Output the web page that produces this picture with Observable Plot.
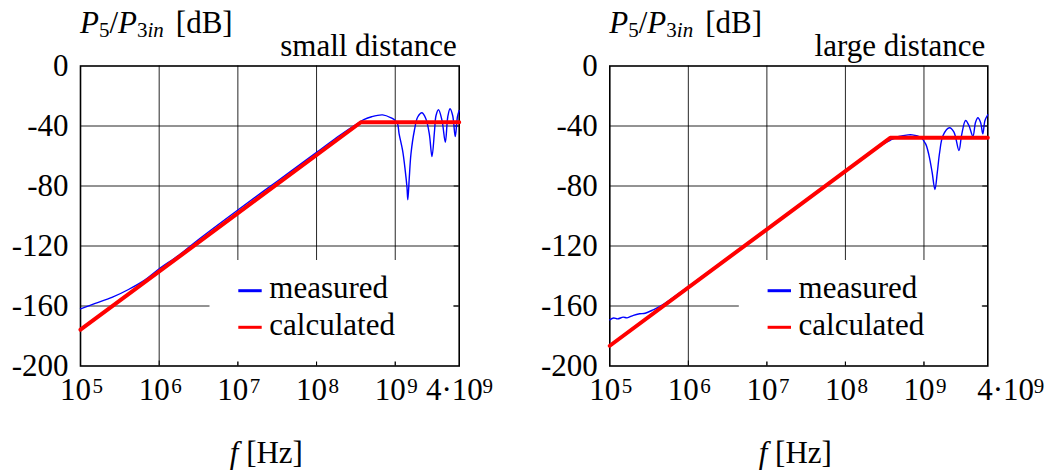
<!DOCTYPE html>
<html>
<head>
<meta charset="utf-8">
<script src="https://cdn.jsdelivr.net/npm/d3@7"></script>
<script src="https://cdn.jsdelivr.net/npm/@observablehq/plot@0.6"></script>
<style>
  html, body { margin: 0; padding: 0; background: #fff; }
  #charts { display: flex; width: 1046px; height: 471px; }
  svg { display: block; }
</style>
</head>
<body>
<div id="charts"></div>
<script>
// ---- Data: transfer ratio P5/P3in versus frequency ----
// Small distance between the conductors
const measuredSmallHz = [1.0e5, 1.54e5, 2.51e5, 4.07e5, 6.61e5, 1.0e6, 1.77e6, 3.02e6, 1.0e7, 3.16e7, 1.0e8, 2.0e8,
  3.16e8, 3.98e8, 5.01e8, 6.92e8, 8.91e8, 1.0e9, 1.07e9, 1.12e9, 1.24e9, 1.34e9, 1.41e9, 1.445e9, 1.51e9, 1.585e9,
  1.75e9, 1.93e9, 2.19e9, 2.45e9, 2.71e9, 2.93e9, 3.16e9, 3.30e9, 3.55e9, 3.93e9, 4.33e9, 4.65e9, 4.97e9, 5.37e9,
  5.79e9, 6.17e9, 6.5e9];
const measuredSmallDb = [-161.9, -158.3, -154.3, -149.0, -142.6, -135.2, -126.2, -116.5, -96.0, -76.8, -57.6, -46.0,
  -39.0, -35.8, -33.8, -32.6, -34.6, -36.3, -38.5, -45.2, -56.3, -69.7, -80.8, -89.2, -74.0, -58.5,
  -43.0, -34.0, -31.2, -35.2, -45.2, -60.3, -43.0, -33.0, -29.2, -36.3, -50.8, -34.0, -28.5, -33.0,
  -47.0, -34.0, -29.7];
const calculatedSmallHz = [1.0e5, 3.66e8, 6.5e9];
const calculatedSmallDb = [-175.8, -37.5, -37.5];

// Large distance between the conductors
const measuredLargeHz = [1.0e5, 1.12e5, 1.26e5, 1.48e5, 1.66e5, 2.0e5, 2.4e5, 2.82e5, 3.55e5, 4.57e5, 1.0e6, 1.0e7,
  1.0e8, 2.0e8, 3.06e8, 3.72e8, 4.79e8, 6.31e8, 7.08e8, 9.06e8, 1.05e9, 1.16e9, 1.27e9, 1.38e9, 1.48e9, 1.585e9,
  1.75e9, 2.12e9, 2.41e9, 2.79e9, 3.01e9, 3.39e9, 3.74e9, 4.20e9, 4.54e9, 4.86e9, 5.25e9, 5.62e9, 5.98e9, 6.5e9];
const measuredLargeDb = [-169.2, -168.0, -168.6, -167.4, -167.9, -166.2, -165.2, -164.8, -162.6, -159.6, -147.0, -108.6,
  -69.9, -58.6, -51.9, -49.5, -47.0, -45.9, -45.9, -47.5, -51.9, -59.7, -70.8, -82.3, -70.8, -57.5,
  -46.3, -41.2, -44.1, -56.3, -46.3, -36.3, -39.7, -46.8, -37.5, -34.5, -37.5, -45.2, -36.3, -32.5];
const calculatedLargeHz = [1.0e5, 3.72e8, 6.5e9];
const calculatedLargeDb = [-186.5, -47.9, -47.9];

// Axes
const xDomain = [1e5, 6.5e9];
const yDomain = [-200, 0];
const gridFreqs = [1e6, 1e7, 1e8, 1e9];
const gridDb = [-40, -80, -120, -160];
const xTickValues = [1e5, 1e6, 1e7, 1e8, 1e9];
const xTickExponents = ["5", "6", "7", "8", "9"];
const xExtraTick = [4e9];
const xExtraBase = "4·10";
const xExtraExponent = "9";
const yTickValues = [0, -40, -80, -120, -160, -200];
const seriesNames = ["measured", "calculated"];
const seriesColors = ["#0000ff", "#ff0000"];

const zip = (xs, ys) => xs.map((f, i) => ({f, db: ys[i]}));

const panels = [
  {note: "small distance", measured: zip(measuredSmallHz, measuredSmallDb), calculated: zip(calculatedSmallHz, calculatedSmallDb),
   marginLeft: 80, marginRight: 64.3, extraDx: -16.6},
  {note: "large distance", measured: zip(measuredLargeHz, measuredLargeDb), calculated: zip(calculatedLargeHz, calculatedLargeDb),
   marginLeft: 86.3, marginRight: 58.7, extraDx: 6}
];

const FONT = "Liberation Serif, Times New Roman, serif";
const FS = 31;     // main text size
const FS_SUP = 21; // super/subscript size
const W = 523, H = 471, MT = 65.5, MB = 105.5;

function buildPanel(p) {
  const frameW = W - p.marginLeft - p.marginRight;
  const frameH = H - MT - MB;
  const chart = Plot.plot({
    width: W, height: H,
    marginLeft: p.marginLeft, marginRight: p.marginRight, marginTop: MT, marginBottom: MB,
    style: {fontFamily: FONT, fontSize: FS + "px", background: "#fff", color: "#000", overflow: "visible"},
    x: {type: "log", domain: xDomain, axis: null},
    y: {domain: yDomain, axis: null},
    marks: [
      // grid
      Plot.ruleX(gridFreqs, {x: d => d, stroke: "#000", strokeOpacity: 0.85, strokeWidth: 1}),
      Plot.ruleY(gridDb, {y: d => d, stroke: "#000", strokeOpacity: 0.85, strokeWidth: 1}),
      // short inward ticks at the bottom and right edges
      Plot.ruleX(gridFreqs, {x: d => d, insetTop: frameH - 5, stroke: "#000", strokeWidth: 1, ariaLabel: "edge-ticks"}),
      Plot.ruleY(gridDb, {y: d => d, insetLeft: frameW - 5, stroke: "#000", strokeWidth: 1}),
      Plot.frame({stroke: "#000", strokeWidth: 1.6}),
      // curves
      Plot.line(p.measured, {x: "f", y: "db", stroke: seriesColors[0], strokeWidth: 1.4, curve: "catmull-rom"}),
      Plot.line(p.calculated, {x: "f", y: "db", stroke: seriesColors[1], strokeWidth: 4, strokeLinejoin: "miter"}),
      // y tick labels
      Plot.text(yTickValues, {y: d => d, text: d => String(d), frameAnchor: "left", textAnchor: "end", dx: -12,
        fontSize: FS, fill: "#000"}),
      // x tick labels: base "10" plus superscript exponent
      Plot.text(xTickValues, {x: d => d, text: () => "10", frameAnchor: "bottom", textAnchor: "end",
        dx: 10.5, dy: 33.5, fontSize: FS, fill: "#000"}),
      Plot.text(xTickValues, {x: d => d, text: (d, i) => xTickExponents[i], frameAnchor: "bottom", textAnchor: "start",
        dx: 12, dy: 26.5, fontSize: FS_SUP, fill: "#000"}),
      Plot.text(xExtraTick, {x: d => d, text: () => xExtraBase, frameAnchor: "bottom", textAnchor: "start",
        dx: p.extraDx, dy: 33.5, fontSize: FS, fill: "#000"}),
      Plot.text(xExtraTick, {x: d => d, text: () => xExtraExponent, frameAnchor: "bottom", textAnchor: "start",
        dx: p.extraDx + 56.5, dy: 26.5, fontSize: FS_SUP, fill: "#000"})
    ]
  });
  const svg = chart.tagName.toLowerCase() === "svg" ? chart : chart.querySelector("svg");
  const s = d3.select(svg);
  const left = p.marginLeft, right = W - p.marginRight, top = MT, bottom = H - MB;

  // legend background hides the grid beneath it, but not the edge ticks
  const tickGroup = svg.querySelector('[aria-label="edge-ticks"]');
  const bg = document.createElementNS("http://www.w3.org/2000/svg", "rect");
  bg.setAttribute("x", left + 129.5);
  bg.setAttribute("y", top + 194.5);
  bg.setAttribute("width", frameW - 129.5 - 5.5);
  bg.setAttribute("height", frameH - 194.5 - 4);
  bg.setAttribute("fill", "#fff");
  if (tickGroup) svg.insertBefore(bg, tickGroup); else svg.appendChild(bg);

  // legend entries
  const lg = s.append("g").attr("font-family", FONT).attr("font-size", FS).attr("text-anchor", "start");
  seriesNames.forEach((name, i) => {
    const yy = top + 225.2 + i * 36.6;
    lg.append("line").attr("x1", left + 158.3).attr("x2", left + 181.7).attr("y1", yy).attr("y2", yy)
      .attr("stroke", seriesColors[i]).attr("stroke-width", 3);
    lg.append("text").attr("x", left + 189.3).attr("y", yy + 7.6).text(name);
  });

  // y-axis title P5/P3in [dB]
  const t = s.append("text").attr("x", left).attr("y", top - 32.5).attr("text-anchor", "start")
    .attr("font-family", FONT).attr("font-size", FS);
  t.append("tspan").attr("font-style", "italic").text("P");
  t.append("tspan").attr("font-size", FS_SUP).attr("dy", 4).text("5");
  t.append("tspan").attr("dy", -4).text("/");
  t.append("tspan").attr("font-style", "italic").text("P");
  t.append("tspan").attr("font-size", FS_SUP).attr("dy", 4).text("3");
  t.append("tspan").attr("font-size", FS_SUP).attr("font-style", "italic").text("in");
  t.append("tspan").attr("dy", -4).attr("dx", 12).text("[dB]");

  // panel note
  s.append("text").attr("x", right - 2).attr("y", top - 9.5).attr("text-anchor", "end")
    .attr("font-family", FONT).attr("font-size", FS).text(p.note);

  // x-axis title f [Hz]
  const xt = s.append("text").attr("x", (left + right) / 2 - 3).attr("y", bottom + 97)
    .attr("text-anchor", "middle").attr("font-family", FONT).attr("font-size", FS);
  xt.append("tspan").attr("font-style", "italic").text("f");
  xt.append("tspan").text(" [Hz]");

  return chart;
}

const host = document.getElementById("charts");
panels.forEach(p => host.appendChild(buildPanel(p)));
</script>
</body>
</html>
